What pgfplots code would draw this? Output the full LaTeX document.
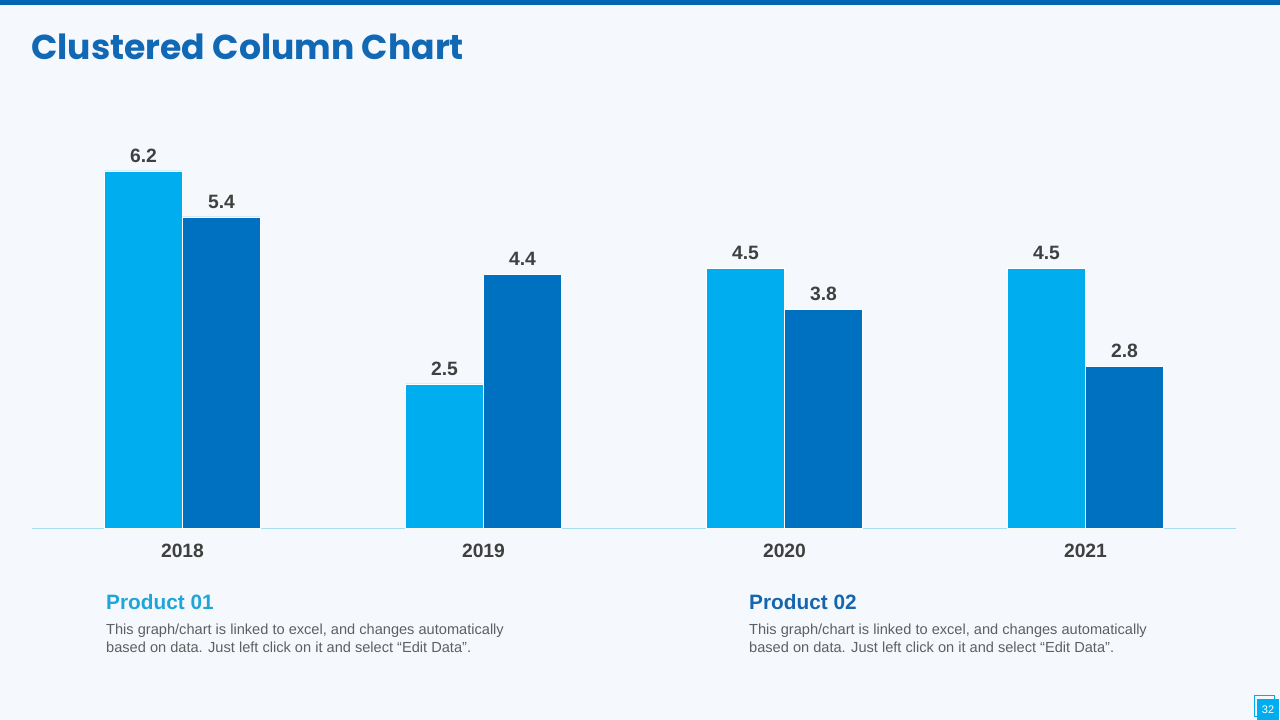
\documentclass[border=0pt]{standalone}
\usepackage{pgfplots}
\pgfplotsset{compat=1.18}
\usepackage{fontspec}
\setmainfont{Liberation Sans}
\newfontfamily\titlefont{Poppins}
\definecolor{bg}{HTML}{F5F9FD}
\definecolor{topbar}{HTML}{0067B4}
\definecolor{lightbar}{HTML}{00ADEF}
\definecolor{darkbar}{HTML}{0070C0}
\definecolor{titleblue}{HTML}{1168B4}
\definecolor{prodone}{HTML}{1FA5DA}
\definecolor{prodtwo}{HTML}{1566AE}
\definecolor{labgray}{HTML}{404040}
\definecolor{bodygray}{HTML}{5F5F5F}
\definecolor{axisline}{HTML}{A8DDF0}
\begin{document}
\begin{tikzpicture}[x=1pt,y=1pt]
\fill[bg] (0,0) rectangle (1280,720);
\fill[topbar] (0,715) rectangle (1280,720);
\coordinate (AX) at (32,192);
\node[anchor=base west,inner sep=0,text=titleblue,font=\titlefont\bfseries\fontsize{34.6}{40}\selectfont] at (31,660) {Clustered Column Chart};
\begin{axis}[
  at={(AX)}, anchor=south west,
  scale only axis, width=1204pt, height=403.2pt,
  xmin=-0.5, xmax=3.5, ymin=0, ymax=7,
  ybar=0pt, bar width=78pt,
  axis y line=none, axis x line*=bottom,
  x axis line style={axisline, line width=0.8pt, -},
  xtick=data, xticklabels={2018,2019,2020,2021},
  major tick length=0pt,
  xticklabel style={font=\bfseries\fontsize{19.3}{22}\selectfont, text=labgray, yshift=-12pt},
  clip=false,
  nodes near coords,
  every node near coord/.append style={font=\bfseries\fontsize{19.3}{22}\selectfont, text=labgray, yshift=5pt},
  /pgf/number format/fixed, /pgf/number format/precision=1,
  /pgf/number format/fixed zerofill,
  /pgf/number format/assume math mode=true,
]
\addplot[fill=lightbar, draw=white, line width=0.6pt] coordinates {(0,6.2) (1,2.5) (2,4.5) (3,4.5)};
\addplot[fill=darkbar, draw=white, line width=0.6pt] coordinates {(0,5.4) (1,4.4) (2,3.8) (3,2.8)};
\end{axis}
\node[anchor=base west,inner sep=0,text=prodone,font=\bfseries\fontsize{20.8}{24}\selectfont] at (106,110) {Product 01};
\node[anchor=base west,inner sep=0,text=prodtwo,font=\bfseries\fontsize{20.8}{24}\selectfont] at (749,110) {Product 02};
\node[anchor=base west,inner sep=0,text=bodygray,font=\fontsize{14.6}{18}\selectfont,align=left] at (106,67) {This graph/chart is linked to excel, and changes automatically\\based on data. Just left click on it and select \textquotedblleft Edit Data\textquotedblright.};
\node[anchor=base west,inner sep=0,text=bodygray,font=\fontsize{14.6}{18}\selectfont,align=left] at (749,67) {This graph/chart is linked to excel, and changes automatically\\based on data. Just left click on it and select \textquotedblleft Edit Data\textquotedblright.};
\draw[lightbar, line width=0.8pt] (1254,4) rectangle (1274,25);
\fill[lightbar] (1257,0) rectangle (1279,21);
\node[text=white,font=\fontsize{11}{12}\selectfont] at (1268,10.5) {32};
\end{tikzpicture}
\end{document}
